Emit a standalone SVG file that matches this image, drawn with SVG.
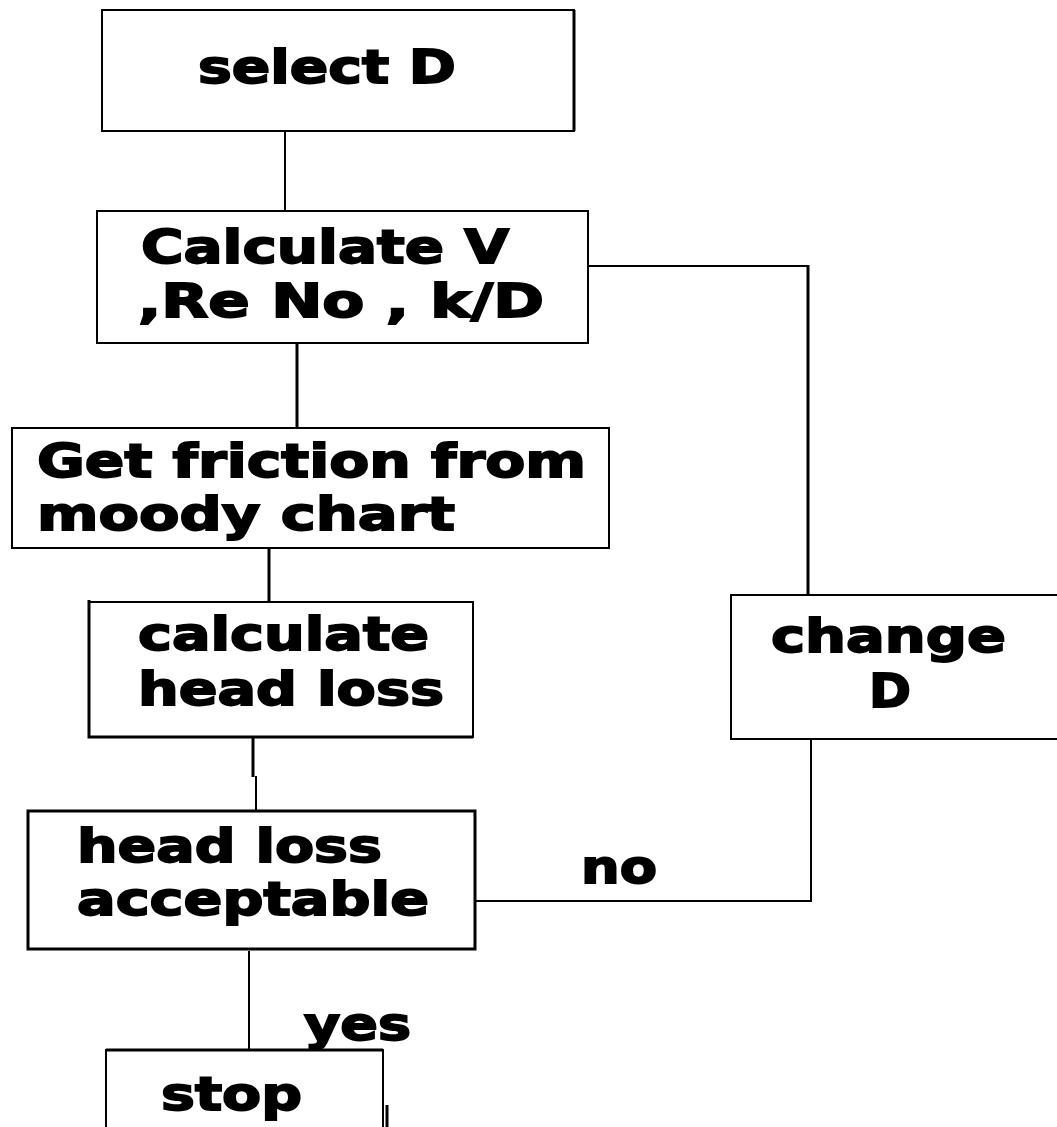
<svg xmlns="http://www.w3.org/2000/svg" width="1057" height="1127" viewBox="0 0 1057 1127">
  <style>
    .box { fill: #fff; stroke: #000; stroke-width: 2; }
    .thick { stroke-width: 3; }
    .wire { fill: none; stroke: #000; stroke-width: 2; }
    .wire3 { fill: none; stroke: #000; stroke-width: 3; }
    .lbl { font-family: "DejaVu Sans", "Verdana", sans-serif; font-weight: bold; font-size: 46px; fill: #000; stroke: #000; stroke-width: 1.8; stroke-linejoin: miter; }
  </style>
  <rect width="1057" height="1127" fill="#fff"/>

  <!-- connectors -->
  <g id="connectors">
    <line class="wire" x1="285" y1="131" x2="285" y2="210"/>
    <polyline class="wire" points="589,266 808,266"/>
    <line class="wire3" x1="808" y1="265" x2="808" y2="595"/>
    <line class="wire3" x1="297" y1="344" x2="297" y2="428"/>
    <line class="wire3" x1="269" y1="548" x2="269" y2="601"/>
    <line class="wire3" x1="253" y1="737" x2="253" y2="777"/>
    <line class="wire" x1="256" y1="776" x2="256" y2="810"/>
    <polyline class="wire" points="475,901 811,901 811,739"/>
    <line class="wire" x1="249" y1="951" x2="249" y2="1050"/>
    <text class="lbl" x="581" y="883" textLength="76" lengthAdjust="spacingAndGlyphs">no</text>
    <text class="lbl" x="304" y="1040" textLength="107" lengthAdjust="spacingAndGlyphs">yes</text>
  </g>

  <!-- process steps -->
  <g id="select-d">
    <rect class="box" x="102" y="10" width="472" height="121"/>
    <line x1="574" y1="10" x2="574" y2="131" stroke="#000" stroke-width="3"/>
    <text class="lbl" x="198" y="83" textLength="258" lengthAdjust="spacingAndGlyphs">select D</text>
  </g>

  <g id="calculate-v">
    <rect class="box" x="97" y="211" width="491" height="132"/>
    <text class="lbl" x="141" y="263" textLength="368" lengthAdjust="spacingAndGlyphs">Calculate V</text>
    <text class="lbl" x="138" y="317" textLength="406" lengthAdjust="spacingAndGlyphs">,Re No , k/D</text>
  </g>

  <g id="get-friction">
    <rect class="box" x="12" y="428" width="597" height="120"/>
    <text class="lbl" x="37" y="477" textLength="549" lengthAdjust="spacingAndGlyphs">Get friction from</text>
    <text class="lbl" x="37" y="530" textLength="418" lengthAdjust="spacingAndGlyphs">moody chart</text>
  </g>

  <g id="calculate-head-loss">
    <rect class="box" x="89" y="602" width="384" height="135"/>
    <path d="M89,600 V737 H473" fill="none" stroke="#000" stroke-width="3"/>
    <text class="lbl" x="138" y="650" textLength="291" lengthAdjust="spacingAndGlyphs">calculate</text>
    <text class="lbl" x="138" y="705" textLength="306" lengthAdjust="spacingAndGlyphs">head loss</text>
  </g>

  <g id="head-loss-acceptable">
    <rect class="box thick" x="28" y="811" width="447" height="138"/>
    <text class="lbl" x="77" y="862" textLength="305" lengthAdjust="spacingAndGlyphs">head loss</text>
    <text class="lbl" x="77" y="915" textLength="352" lengthAdjust="spacingAndGlyphs">acceptable</text>
  </g>

  <g id="change-d">
    <rect class="box" x="731" y="595" width="340" height="144"/>
    <text class="lbl" x="771" y="652" textLength="235" lengthAdjust="spacingAndGlyphs">change</text>
    <text class="lbl" x="869" y="707" textLength="42" lengthAdjust="spacingAndGlyphs">D</text>
  </g>

  <g id="stop">
    <path d="M106,1140 V1050 H383 V1140" fill="#fff" stroke="#000" stroke-width="2"/>
    <line x1="106" y1="1050" x2="383" y2="1050" stroke="#000" stroke-width="3"/>
    <line x1="387" y1="1105" x2="387" y2="1127" stroke="#000" stroke-width="3"/>
    <text class="lbl" x="161" y="1110" textLength="141" lengthAdjust="spacingAndGlyphs">stop</text>
  </g>
</svg>
